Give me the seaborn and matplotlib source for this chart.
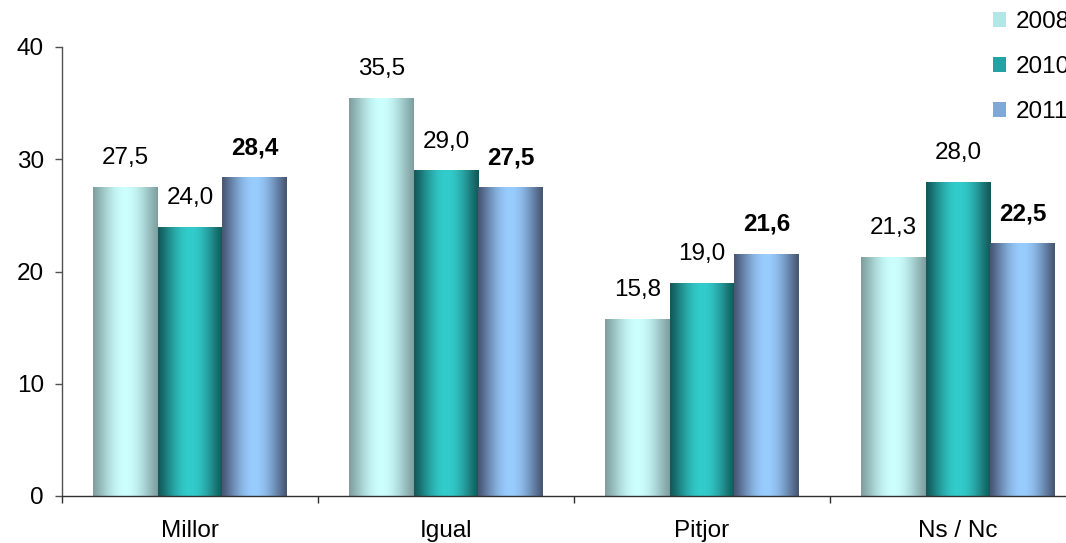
import numpy as np
import pandas as pd
import seaborn as sns
import matplotlib
matplotlib.use("Agg")
import matplotlib.pyplot as plt
from matplotlib.colors import to_rgb
from matplotlib.patches import Patch

# dades
categories = ["Millor", "Igual", "Pitjor", "Ns / Nc"]
years = ["2008", "2010", "2011"]
values_2008 = [27.5, 35.5, 15.8, 21.3]
values_2010 = [24.0, 29.0, 19.0, 28.0]
values_2011 = [28.4, 27.5, 21.6, 22.5]

# colors: vora fosca, centre clar
edge_colors = {"2008": "#7f9f9f", "2010": "#135858", "2011": "#475673"}
center_colors = {"2008": "#ccffff", "2010": "#33cccc", "2011": "#99ccff"}
legend_colors = {"2008": "#b3e6e6", "2010": "#22a3a3", "2011": "#80a8d6"}

df = pd.DataFrame({
    "cat": categories * 3,
    "val": values_2008 + values_2010 + values_2011,
    "year": [y for y in years for _ in categories],
})

sns.set_style("white")
plt.rcParams["font.family"] = ["Liberation Sans", "DejaVu Sans"]
plt.rcParams["text.color"] = "black"
plt.rcParams["xtick.color"] = "black"
plt.rcParams["ytick.color"] = "black"
FS = 17.5

W, H = 1066, 543
fig = plt.figure(figsize=(W / 100, H / 100), dpi=100)
ax = fig.add_axes([62 / W, 47 / H, 1024 / W, 449 / H])

sns.barplot(data=df, x="cat", y="val", hue="year", palette=center_colors,
            width=0.76, ax=ax, legend=False, saturation=1)

ax.set_ylim(0, 40)
ax.set_xlim(-0.5, 3.5)


def gradient_img(year, n=200):
    t = np.linspace(0, 1, n)
    f = np.sin(np.pi * t) ** 1.2
    e = np.array(to_rgb(edge_colors[year]))
    c = np.array(to_rgb(center_colors[year]))
    row = e[None, :] + (c - e)[None, :] * f[:, None]
    return row[None, :, :]


# pintar cada barra amb un degradat horitzontal
bars = [p for p in ax.patches if p.get_height() > 0]
for i, p in enumerate(bars):
    year = years[i // len(categories)]
    x0 = p.get_x()
    w = p.get_width()
    h = p.get_height()
    img = ax.imshow(gradient_img(year), extent=[x0, x0 + w, 0, h],
                    aspect="auto", zorder=2, interpolation="bilinear")
    img.set_clip_path(p)
    p.set_facecolor("none")
    p.set_edgecolor("none")
    txt = f"{h:.1f}".replace(".", ",")
    ax.annotate(txt, (x0 + w / 2, h), xytext=(0, 16.5), textcoords="offset points",
                ha="center", va="baseline", fontsize=FS, color="black",
                fontweight="bold" if year == "2011" else "normal")

# eixos
for s in ["top", "right"]:
    ax.spines[s].set_visible(False)
ax.spines["left"].set_color("#505050")
ax.spines["bottom"].set_color("#303030")
ax.spines["left"].set_linewidth(1.0)
ax.spines["bottom"].set_linewidth(1.0)

ax.set_yticks([0, 10, 20, 30, 40])
ax.tick_params(axis="y", which="major", direction="out", length=5, width=1,
               color="#505050", labelcolor="black", labelsize=FS, pad=8, left=True)

ax.set_xticks([-0.5, 0.5, 1.5, 2.5, 3.5])
ax.set_xticklabels([])
ax.set_xticks(range(len(categories)), minor=True)
ax.set_xticklabels(categories, minor=True)
ax.tick_params(axis="x", which="major", direction="out", length=5, width=1,
               color="#303030", bottom=True)
ax.tick_params(axis="x", which="minor", length=0, labelsize=FS, labelcolor="black", pad=17)
ax.set_xlabel("")
ax.set_ylabel("")
ax.grid(False)

handles = [Patch(facecolor=legend_colors[y], edgecolor="none", label=y) for y in years]
leg = fig.legend(handles=handles, loc="upper left", bbox_to_anchor=(993 / W, 1 - 11 / H),
                 frameon=False, fontsize=FS, borderpad=0, borderaxespad=0,
                 handlelength=0.55, handleheight=0.55, handletextpad=0.4, labelspacing=0.95)
for t in leg.get_texts():
    t.set_color("black")

fig.savefig("out.png", dpi=100)
